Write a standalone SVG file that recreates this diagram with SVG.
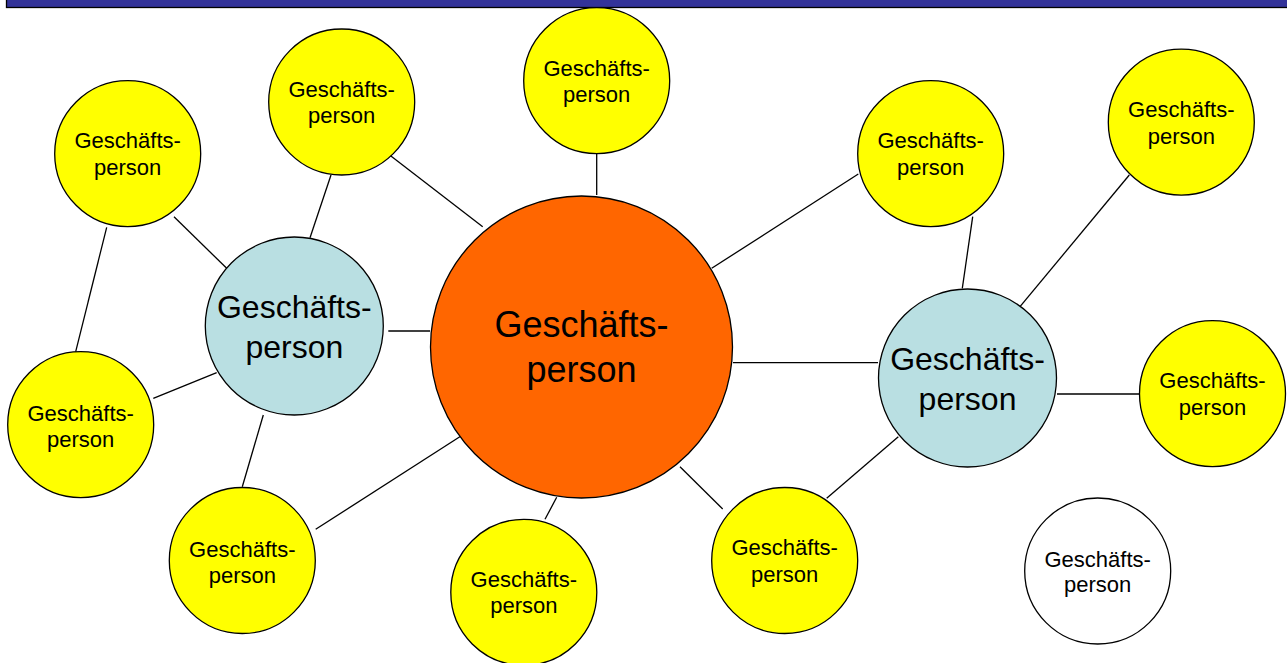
<svg xmlns="http://www.w3.org/2000/svg" width="1287" height="663" viewBox="0 0 1287 663">
<style>
.n{stroke:#000;stroke-width:1.3}
.y{fill:#FFFF00}
.t{fill:#B9DFE2}
.o{fill:#FF6600}
.w{fill:#FFFFFF}
text{font-family:"Liberation Sans",Arial,sans-serif;fill:#000;text-anchor:middle}
.s{font-size:22px}
.m{font-size:32px}
.l{font-size:36px}
#connectors line{stroke:#000;stroke-width:1.3}
</style>
<rect width="1287" height="663" fill="#fff"/>
<rect x="6.5" y="-2" width="1290" height="9.5" fill="#333399" stroke="#000" stroke-width="1.3"/>
<g id="connectors">
<line x1="596.7" y1="154" x2="596.7" y2="195"/>
<line x1="711.7" y1="268.3" x2="858.3" y2="174"/>
<line x1="972.7" y1="216.7" x2="962.3" y2="288.3"/>
<line x1="1129.3" y1="175" x2="1020" y2="306.7"/>
<line x1="733" y1="362.7" x2="878" y2="362.7"/>
<line x1="1057" y1="394" x2="1139" y2="394"/>
<line x1="898.3" y1="436.7" x2="826.7" y2="498.3"/>
<line x1="556.7" y1="497.3" x2="545" y2="519.3"/>
<line x1="680" y1="466.7" x2="722.7" y2="509"/>
<line x1="106.7" y1="227.3" x2="75.7" y2="351.7"/>
<line x1="153.3" y1="398.3" x2="216.7" y2="372.7"/>
<line x1="263.3" y1="415" x2="242.3" y2="486.7"/>
<line x1="315.7" y1="529.3" x2="461" y2="436"/>
<line x1="174" y1="216.7" x2="226.7" y2="268.3"/>
<line x1="331" y1="175" x2="310" y2="237.7"/>
<line x1="388.3" y1="154" x2="482.7" y2="226.7"/>
<line x1="388.3" y1="331" x2="430" y2="331"/>
</g>
<g id="center">
<circle class="n o" cx="581.5" cy="347" r="151"/>
<text class="l" x="581.5" y="337">Geschäfts-</text>
<text class="l" x="581.5" y="381.5">person</text>
</g>
<g id="hub-left">
<circle class="n t" cx="294.3" cy="326" r="89"/>
<text class="m" x="294.3" y="318.3">Geschäfts-</text>
<text class="m" x="294.3" y="358">person</text>
</g>
<g id="hub-right">
<circle class="n t" cx="967.5" cy="378" r="89"/>
<text class="m" x="967.5" y="370">Geschäfts-</text>
<text class="m" x="967.5" y="410">person</text>
</g>
<g id="p-top">
<circle class="n y" cx="596.7" cy="80.7" r="73"/>
<text class="s" x="596.7" y="76">Geschäfts-</text>
<text class="s" x="596.7" y="102">person</text>
</g>
<g id="p-topleft">
<circle class="n y" cx="341.7" cy="102" r="73"/>
<text class="s" x="341.7" y="97.3">Geschäfts-</text>
<text class="s" x="341.7" y="123.3">person</text>
</g>
<g id="p-left-upper">
<circle class="n y" cx="127.7" cy="153.7" r="73"/>
<text class="s" x="127.7" y="148.3">Geschäfts-</text>
<text class="s" x="127.7" y="175">person</text>
</g>
<g id="p-left-lower">
<circle class="n y" cx="80.7" cy="424.7" r="73"/>
<text class="s" x="80.7" y="420.7">Geschäfts-</text>
<text class="s" x="80.7" y="447.3">person</text>
</g>
<g id="p-bottom-left">
<circle class="n y" cx="242.3" cy="560.5" r="73"/>
<text class="s" x="242.3" y="556.7">Geschäfts-</text>
<text class="s" x="242.3" y="583.3">person</text>
</g>
<g id="p-bottom">
<circle class="n y" cx="523.8" cy="592.3" r="73"/>
<text class="s" x="523.8" y="586.7">Geschäfts-</text>
<text class="s" x="523.8" y="613.3">person</text>
</g>
<g id="p-bottom-right">
<circle class="n y" cx="784.7" cy="560.5" r="73"/>
<text class="s" x="784.7" y="555">Geschäfts-</text>
<text class="s" x="784.7" y="581.7">person</text>
</g>
<g id="p-right-mid">
<circle class="n y" cx="930.7" cy="153.7" r="73"/>
<text class="s" x="930.7" y="148.3">Geschäfts-</text>
<text class="s" x="930.7" y="175">person</text>
</g>
<g id="p-far-right">
<circle class="n y" cx="1181.3" cy="122.2" r="73"/>
<text class="s" x="1181.3" y="117">Geschäfts-</text>
<text class="s" x="1181.3" y="143.5">person</text>
</g>
<g id="p-right">
<circle class="n y" cx="1212.5" cy="393.7" r="73"/>
<text class="s" x="1212.5" y="388.3">Geschäfts-</text>
<text class="s" x="1212.5" y="415">person</text>
</g>
<g id="p-unconnected">
<circle class="n w" cx="1097.7" cy="571" r="73"/>
<text class="s" x="1097.7" y="566.7">Geschäfts-</text>
<text class="s" x="1097.7" y="592.3">person</text>
</g>
</svg>
